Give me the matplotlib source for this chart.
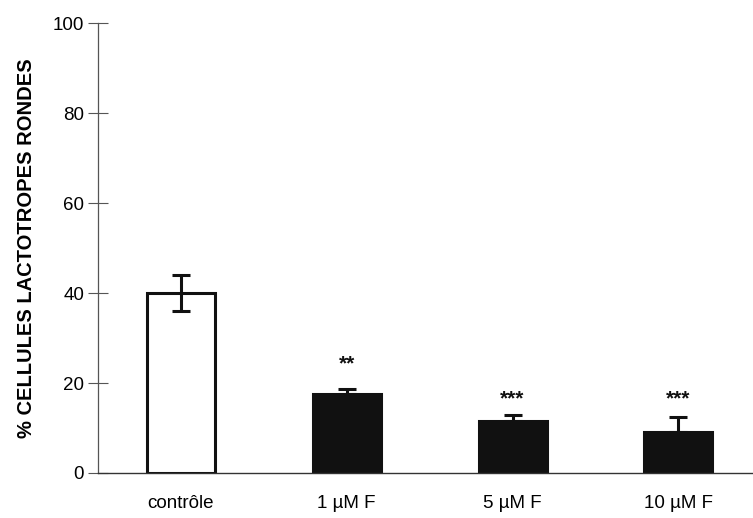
import matplotlib
matplotlib.use("Agg")
import matplotlib.pyplot as plt

plt.rcParams['font.family'] = ['Liberation Sans', 'DejaVu Sans']

categories = ["contrôle", "1 µM F", "5 µM F", "10 µM F"]
values = [40.0, 17.5, 11.6, 9.2]
errors = [4.0, 1.2, 1.2, 3.3]
signif = ["", "**", "***", "***"]
yticks = [0, 20, 40, 60, 80, 100]

fig = plt.figure(figsize=(7.53, 5.18), dpi=100)
ax = fig.add_axes([0.130, 0.087, 0.87, 0.868])

x = list(range(len(categories)))
face = ["white", "#111111", "#111111", "#111111"]
ax.bar(x, values, width=0.41, color=face, edgecolor="#111111", linewidth=2.2, zorder=2)

# control gets a symmetric bar; treated groups show the upper arm only
ax.errorbar(x[0], values[0], yerr=errors[0], fmt="none", ecolor="#111111",
            elinewidth=2.2, capsize=6.5, capthick=2.2, zorder=3)
for xi, v, e in zip(x[1:], values[1:], errors[1:]):
    ax.errorbar(xi, v, yerr=[[0], [e]], fmt="none", ecolor="#111111",
                elinewidth=2.2, capsize=6.5, capthick=2.2, zorder=3)

# significance marks sit a little above each error bar
star_gap = [0, 5.6, 3.6, 3.9]
for xi, v, e, s, g in zip(x, values, errors, signif, star_gap):
    if s:
        ax.text(xi, v + e + g, s, ha="center", va="center", fontsize=15,
                fontweight="bold", color="#111111")

ax.set_xlim(-0.5, 3.45)
ax.set_ylim(0, 100)
ax.set_yticks(yticks)
ax.set_yticklabels([str(t) for t in yticks], fontsize=13.5)
ax.set_xticks(x)
ax.set_xticklabels(categories, fontsize=13.5)
ax.tick_params(axis="x", length=0, pad=16)
ax.tick_params(axis="y", direction="inout", length=14, width=0.8, color="#555555", pad=3)

for side in ("top", "right"):
    ax.spines[side].set_visible(False)
ax.spines["left"].set_color("#555555")
ax.spines["left"].set_linewidth(0.9)
ax.spines["bottom"].set_color("#333333")
ax.spines["bottom"].set_linewidth(1.0)

ax.set_ylabel("% CELLULES LACTOTROPES RONDES", fontsize=14.5, fontweight="bold", labelpad=12)

fig.savefig("out.png", dpi=100)
